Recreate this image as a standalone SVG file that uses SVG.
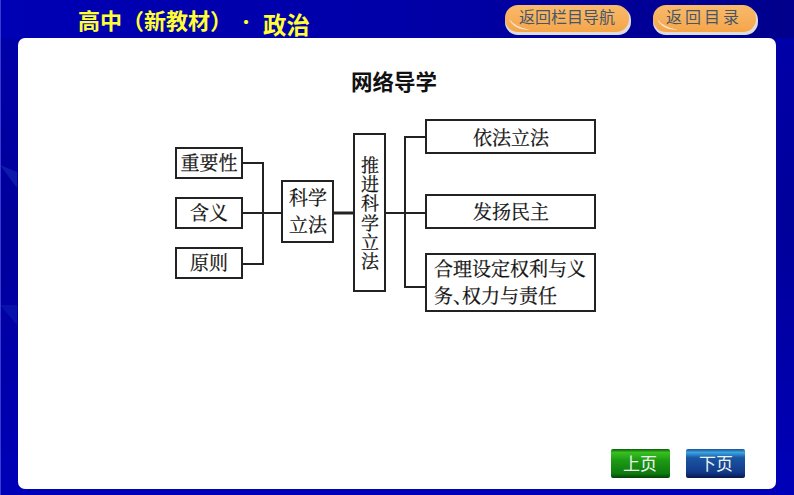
<svg xmlns="http://www.w3.org/2000/svg" width="794" height="495" viewBox="0 0 794 495">
<defs>
<linearGradient id="bg" x1="0" y1="0" x2="0" y2="1"><stop offset="0" stop-color="#00008c"/><stop offset="0.08" stop-color="#0000a8"/><stop offset="0.45" stop-color="#00009a"/><stop offset="1" stop-color="#0000b8"/></linearGradient>
<linearGradient id="top" x1="0" y1="0" x2="1" y2="0"><stop offset="0" stop-color="#0000b4"/><stop offset="0.5" stop-color="#0000a8"/><stop offset="1" stop-color="#00008c"/></linearGradient>
<linearGradient id="org" x1="0" y1="0" x2="0" y2="1"><stop offset="0" stop-color="#f8ba6c"/><stop offset="1" stop-color="#f5a54a"/></linearGradient>
<linearGradient id="grn" x1="0" y1="0" x2="0" y2="1"><stop offset="0" stop-color="#0a5c0a"/><stop offset="0.12" stop-color="#38c020"/><stop offset="0.4" stop-color="#1c9a14"/><stop offset="0.85" stop-color="#0e7a0e"/><stop offset="1" stop-color="#044004"/></linearGradient>
<linearGradient id="blu" x1="0" y1="0" x2="0" y2="1"><stop offset="0" stop-color="#1f4f9a"/><stop offset="0.12" stop-color="#38a6e0"/><stop offset="0.3" stop-color="#1a56a4"/><stop offset="0.8" stop-color="#123a8a"/><stop offset="1" stop-color="#08184c"/></linearGradient>
</defs>
<style>
text{font-family:"Noto Serif CJK SC","Noto Sans CJK SC",serif;text-anchor:middle}
.s{font-size:19px;fill:#111;stroke:#111;stroke-width:.25}
.v{font-size:18px;fill:#111;stroke:#111;stroke-width:.25;writing-mode:vertical-rl;text-anchor:start;letter-spacing:1.3px}
.box{fill:#fff;stroke:#222;stroke-width:2}
.c{fill:none;stroke:#222;stroke-width:2}
.h{font-family:"Noto Sans CJK SC",sans-serif;fill:#ffff33;font-size:22px;font-weight:700;text-anchor:start}
.b{font-family:"Noto Sans CJK SC",sans-serif;fill:#465668;font-size:16px}
.w{font-family:"Noto Sans CJK SC",sans-serif;fill:#eef4ee;font-size:17px}
</style>
<rect width="794" height="495" fill="url(#bg)"/>
<rect width="794" height="38" fill="url(#top)"/>
<rect x="0" y="0" width="1" height="495" fill="#3a3ad0"/>
<path d="M0 165 L17 172 L17 188 Z" fill="#2f55c8" opacity=".3"/>
<path d="M0 305 H17 V325 Z" fill="#2f55c8" opacity=".2"/>
<rect x="18" y="38" width="758" height="451" rx="7" fill="#fff"/>
<g id="header">
<text class="h" x="78" y="29">高中（新教材）</text>
<text class="h" x="238" y="28" style="font-size:16px">·</text>
<text class="h" x="263" y="34" style="font-size:23.500px">政治</text>
</g>
<g id="btn-nav">
<rect x="505" y="7" width="126" height="28" rx="13" fill="#ddd"/>
<rect x="505" y="5" width="124" height="27" rx="13" fill="url(#org)"/>
<path d="M509 19Q515 27 530 30Q514 30 509 19Z" fill="#fff" opacity=".7"/>
<text class="b" x="567" y="23">返回栏目导航</text>
</g>
<g id="btn-toc">
<rect x="653" y="7" width="105" height="28" rx="13" fill="#ddd"/>
<rect x="653" y="5" width="103" height="27" rx="13" fill="url(#org)"/>
<path d="M657 19Q663 27 678 30Q662 30 657 19Z" fill="#fff" opacity=".7"/>
<text class="b" x="704" y="23" style="letter-spacing:3px">返回目录</text>
</g>
<text x="394" y="90" style="font-family:'Noto Sans CJK SC',sans-serif;font-size:21.5px;font-weight:700;fill:#111">网络导学</text>
<g id="connectors">
<path class="c" d="M242 163H263V264H242M242 213H282"/>
<path class="c" d="M333 213H354" style="stroke-width:3"/>
<path class="c" d="M385 213H426M426 137H405V287H426"/>
</g>
<g id="n-zhongyao"><rect class="box" x="176" y="148" width="66" height="30"/><text class="s" x="209" y="170">重要性</text></g>
<g id="n-hanyi"><rect class="box" x="176" y="198" width="66" height="30"/><text class="s" x="209" y="220">含义</text></g>
<g id="n-yuanze"><rect class="box" x="176" y="248" width="66" height="30"/><text class="s" x="209" y="270">原则</text></g>
<g id="n-kexue"><rect class="box" x="282" y="181" width="51" height="61"/><text class="s" x="308" y="205">科学</text><text class="s" x="308" y="232">立法</text></g>
<g id="n-tuijin"><rect class="box" x="354" y="134" width="31" height="157"/>
<text class="v" x="370" y="156">推进科学立法</text></g>
<g id="n-yifa"><rect class="box" x="426" y="120" width="169" height="33"/><text class="s" x="511" y="145">依法立法</text></g>
<g id="n-fayang"><rect class="box" x="426" y="195" width="169" height="33"/><text class="s" x="511" y="219">发扬民主</text></g>
<g id="n-heli"><rect class="box" x="426" y="254" width="169" height="57"/><text class="s" x="510" y="276">合理设定权利与义</text><text class="s" x="434" y="303" dx="0 0 -10" style="text-anchor:start">务、权力与责任</text></g>
<g id="btn-prev"><rect x="611" y="449" width="59" height="29" rx="2" fill="url(#grn)"/><text class="w" x="640" y="470">上页</text></g>
<g id="btn-next"><rect x="686" y="449" width="59" height="29" rx="2" fill="url(#blu)"/><text class="w" x="716" y="470">下页</text></g>
</svg>
